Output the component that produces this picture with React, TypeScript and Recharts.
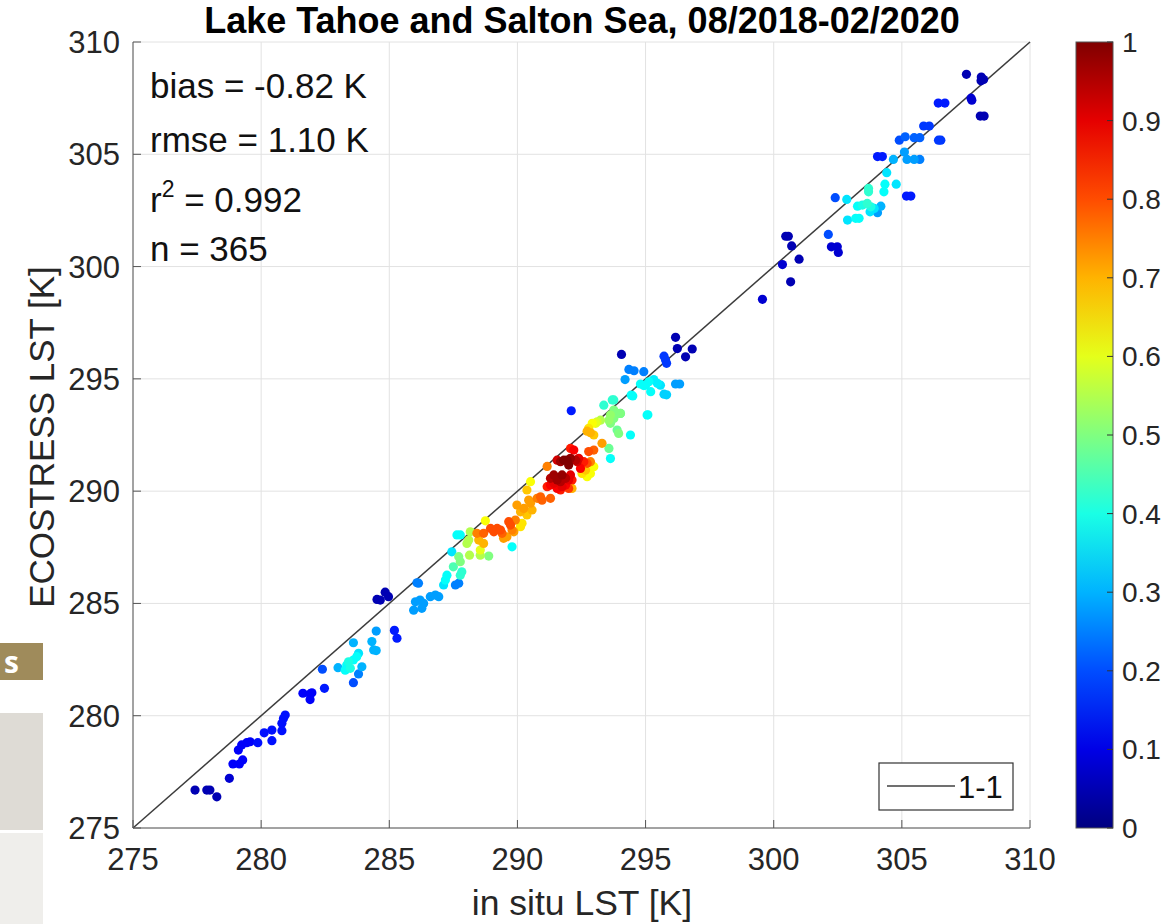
import { CartesianGrid, ReferenceLine, Scatter, ScatterChart, XAxis, YAxis } from "recharts";

const AXIS_TICKS = [275, 280, 285, 290, 295, 300, 305, 310];
const CBAR_TICKS = [0, 0.1, 0.2, 0.3, 0.4, 0.5, 0.6, 0.7, 0.8, 0.9, 1];

// in situ LST [K]
const inSitu = [
  277.42, 277.88, 278.0, 278.27, 278.76, 278.9, 279.15, 279.28, 279.11, 279.24,
  279.44, 279.57, 279.87, 280.12, 280.42, 280.42, 280.81, 280.81, 280.87, 280.94,
  281.63, 281.91, 281.98, 281.91, 282.47, 282.39,
  283.0, 283.34, 283.48, 283.41, 283.6, 283.73, 283.8, 283.93, 283.28, 283.6,
  283.8, 283.6, 284.32, 284.39, 284.49, 284.49, 285.2, 285.3,
  284.52, 284.65, 284.84, 284.97,
  286.08, 286.02, 286.2, 286.34, 285.95, 286.27, 286.6, 286.8, 286.93, 286.14,
  287.12, 287.25, 287.19, 287.58, 287.71, 287.44, 287.71, 287.77, 287.5, 287.83,
  287.77, 287.64, 287.77, 288.16, 288.1, 288.03, 288.13, 288.55, 288.55, 288.88,
  288.49, 288.68, 288.75, 288.42, 288.68, 288.95, 289.08, 289.21, 289.34, 289.4,
  289.46, 289.59, 289.66, 289.73, 289.79, 289.86, 289.92, 289.79,
  289.98, 290.12, 290.25, 290.37, 290.51, 290.57, 290.44, 290.77, 290.96, 290.9,
  291.29, 290.12, 290.18, 290.37, 290.51, 291.16,
  291.16, 291.29, 291.42, 291.55, 291.68, 291.74, 291.88, 292.0, 292.13,
  291.29, 291.42, 291.55, 291.68, 291.74, 291.88, 292.0, 292.07, 292.13,
  291.55, 291.68, 291.81, 291.94, 292.07, 292.0, 292.27, 292.33, 292.39, 292.46,
  292.59, 292.72, 292.85, 292.07, 292.2,
  292.52, 292.66, 292.72, 292.85, 292.98, 292.78, 292.98, 293.3,
  292.72, 292.85, 292.98, 292.78, 292.92, 293.05, 293.11, 293.24,
  293.57, 293.63, 293.63, 293.76, 293.89, 294.02, 293.89, 293.95, 293.37, 293.76,
  294.41, 295.06, 292.1,
  293.7, 293.76, 293.63, 294.02, 293.57,
  296.17, 296.24, 296.82, 296.56, 295.72, 295.78, 295.82, 294.06,
  294.35, 294.55, 294.93, 294.2, 294.8, 295.0, 295.13, 295.32, 295.46, 295.58,
  295.2, 294.93, 295.72, 295.82, 296.17, 296.33, 294.44, 294.5, 295.09,
  299.56, 300.34, 300.66, 300.99, 300.7, 300.47, 300.57,
  302.13, 302.25, 302.48, 302.52, 302.4, 302.85,
  302.88, 303.2, 303.33, 303.27, 303.46, 303.65, 303.79, 303.92, 304.18, 303.76,
  304.05, 303.7, 303.7, 304.3, 304.34, 304.78, 304.41, 305.18, 305.35,
  304.05, 304.24, 304.67, 305.2, 305.48, 305.7, 305.1,
  304.9, 305.13, 305.48, 305.7, 305.85, 306.07, 306.43, 306.52,
  306.42, 306.68, 307.7, 307.73, 308.06, 308.21,
  307.52, 308.1, 308.19, 308.09,
];

// ECOSTRESS LST [K]
const ecostress = [
  276.69, 276.69, 276.69, 276.39, 277.21, 277.85, 277.85, 278.03, 278.47, 278.7,
  278.8, 278.84, 278.8, 279.24, 279.36, 278.89, 279.33, 279.66, 279.88, 280.03,
  281.0, 280.97, 281.02, 280.72, 281.22, 282.07,
  282.14, 282.26, 282.11, 282.4, 282.48, 282.63, 282.78, 282.18, 282.03, 281.47,
  281.86, 283.25, 283.3, 282.93, 283.77, 282.9, 283.8, 283.45,
  285.18, 285.15, 285.5, 285.3,
  285.92, 285.07, 285.15, 285.0, 284.7, 284.78, 285.3, 285.37, 285.3, 285.9,
  285.82, 286.26, 286.04, 285.82, 285.9, 287.3, 287.08, 286.86, 286.63, 286.41,
  286.26, 288.05, 288.05, 288.19, 287.82, 287.67, 287.15, 287.15, 287.38, 287.11,
  287.82, 287.67, 288.68, 288.12, 288.12, 288.34, 288.19, 288.34, 288.27, 288.12,
  287.9, 287.97, 288.64, 288.49, 288.27, 288.19, 288.71, 287.52,
  289.38, 289.08, 289.23, 288.94, 289.46, 289.16, 289.6, 289.68, 289.6, 289.75,
  289.68, 288.42, 288.57, 290.05, 290.42, 291.1,
  290.2, 290.27, 290.35, 290.12, 290.05, 290.2, 290.27, 290.12, 290.12,
  290.57, 290.72, 290.5, 290.42, 290.72, 290.57, 290.5, 290.72, 290.5,
  291.38, 291.31, 291.38, 291.38, 291.46, 291.16, 291.38, 291.31, 291.46, 291.01,
  291.31, 291.24, 291.31, 291.9, 291.83,
  290.79, 290.94, 290.64, 290.79, 291.09, 291.76, 291.83, 292.13,
  292.67, 292.6, 292.5, 292.8, 293.02, 293.02, 293.09, 293.16,
  291.9, 291.45, 293.02, 293.24, 293.46, 293.46, 292.72, 292.57, 293.83, 294.06,
  292.5, 293.39, 293.58,
  294.06, 293.61, 293.39, 293.46, 293.16,
  296.85, 296.35, 296.33, 295.98, 296.01, 295.84, 295.69, 296.09,
  295.42, 295.36, 295.32, 294.97, 294.77, 294.72, 294.87, 294.97, 294.8, 294.72,
  294.43, 294.7, 294.32, 294.29, 294.77, 294.77, 294.28, 294.24, 293.4,
  298.54, 300.09, 299.32, 300.33, 300.92, 301.35, 301.35,
  301.43, 300.88, 300.88, 300.63, 303.07, 302.99,
  302.07, 302.15, 302.15, 302.69, 302.74, 302.81, 302.66, 302.59, 302.69, 302.44,
  302.4, 303.48, 303.33, 303.33, 303.67, 303.67, 304.18, 303.14, 303.14,
  304.9, 304.9, 304.77, 304.77, 304.77, 304.77, 305.1,
  305.63, 305.78, 305.74, 305.74, 306.26, 306.26, 305.63, 305.63,
  307.28, 307.28, 307.5, 307.41, 306.7, 306.7,
  308.56, 308.44, 308.33, 308.27,
];

// normalised point density (colour)
const density = [
  0.05, 0.05, 0.05, 0.05, 0.08, 0.12, 0.12, 0.12, 0.12, 0.12,
  0.12, 0.12, 0.14, 0.14, 0.14, 0.14, 0.14, 0.14, 0.14, 0.14,
  0.12, 0.12, 0.12, 0.12, 0.15, 0.2,
  0.3, 0.38, 0.4, 0.4, 0.38, 0.38, 0.35, 0.3, 0.38, 0.2,
  0.25, 0.3, 0.3, 0.3, 0.28, 0.3, 0.15, 0.15,
  0.05, 0.05, 0.05, 0.05,
  0.25, 0.28, 0.28, 0.28, 0.28, 0.28, 0.28, 0.28, 0.28, 0.25,
  0.35, 0.38, 0.38, 0.25, 0.25, 0.35, 0.5, 0.5, 0.45, 0.42,
  0.42, 0.38, 0.38, 0.55, 0.55, 0.55, 0.55, 0.55, 0.6, 0.5,
  0.7, 0.7, 0.62, 0.75, 0.78, 0.8, 0.8, 0.8, 0.8, 0.78,
  0.72, 0.72, 0.8, 0.8, 0.75, 0.72, 0.75, 0.38,
  0.72, 0.7, 0.72, 0.68, 0.72, 0.7, 0.72, 0.75, 0.78, 0.78,
  0.78, 0.65, 0.65, 0.68, 0.62, 0.75,
  0.85, 0.88, 0.9, 0.88, 0.85, 0.9, 0.88, 0.82, 0.7,
  0.95, 0.97, 0.97, 0.95, 0.98, 0.95, 0.9, 0.9, 0.85,
  0.92, 0.97, 1.0, 1.0, 0.98, 1.0, 0.95, 0.92, 0.9, 0.88,
  0.85, 0.8, 0.75, 0.85, 0.88,
  0.65, 0.68, 0.62, 0.62, 0.62, 0.8, 0.78, 0.72,
  0.7, 0.7, 0.68, 0.65, 0.62, 0.6, 0.58, 0.55,
  0.48, 0.38, 0.5, 0.5, 0.48, 0.45, 0.48, 0.5, 0.42, 0.42,
  0.38, 0.38, 0.15,
  0.42, 0.5, 0.52, 0.5, 0.52,
  0.05, 0.05, 0.05, 0.05, 0.18, 0.18, 0.18, 0.05,
  0.25, 0.25, 0.25, 0.28, 0.38, 0.38, 0.38, 0.36, 0.36, 0.35,
  0.38, 0.38, 0.33, 0.33, 0.28, 0.28, 0.38, 0.38, 0.38,
  0.08, 0.08, 0.05, 0.05, 0.05, 0.05, 0.05,
  0.2, 0.08, 0.08, 0.08, 0.2, 0.35,
  0.35, 0.38, 0.38, 0.38, 0.4, 0.42, 0.4, 0.35, 0.3, 0.35,
  0.28, 0.42, 0.42, 0.38, 0.38, 0.35, 0.35, 0.15, 0.15,
  0.15, 0.15, 0.3, 0.28, 0.28, 0.25, 0.28,
  0.2, 0.22, 0.22, 0.22, 0.18, 0.18, 0.18, 0.18,
  0.15, 0.15, 0.08, 0.08, 0.05, 0.05,
  0.05, 0.05, 0.05, 0.05,
];

function jet(v: number) {
  const c = (t: number) => Math.round(255 * Math.max(0, Math.min(1, t)));
  const r = c(1.5 - Math.abs(4 * v - 3));
  const g = c(1.5 - Math.abs(4 * v - 2));
  const b = c(1.5 - Math.abs(4 * v - 1));
  return `rgb(${r},${g},${b})`;
}

const points = inSitu
  .map((x, i) => ({ x, y: ecostress[i], d: density[i] }))
  .sort((a, b) => a.d - b.d);

const FONT = "'Liberation Sans', Arial, Helvetica, sans-serif";
const PLOT = { left: 133, top: 42, right: 1030, bottom: 828 };
const CBAR = { x: 1076, w: 37 };

function Overlay() {
  const cbY = (v: number) => PLOT.bottom - v * (PLOT.bottom - PLOT.top);
  const jetStops = [0, 0.1, 0.2, 0.3, 0.4, 0.5, 0.6, 0.7, 0.8, 0.9, 1];
  return (
    <svg
      width={1176}
      height={924}
      style={{ position: "absolute", left: 0, top: 0, pointerEvents: "none", fontFamily: FONT }}
    >
      <defs>
        <linearGradient id="jet" x1="0" y1="1" x2="0" y2="0">
          {jetStops.map((s) => (
            <stop key={s} offset={`${s * 100}%`} stopColor={jet(s)} />
          ))}
        </linearGradient>
      </defs>
      <text x={582} y={33} textAnchor="middle" fontSize={36} fontWeight="bold" fill="#000">
        Lake Tahoe and Salton Sea, 08/2018-02/2020
      </text>
      <text x={582} y={915} textAnchor="middle" fontSize={35.5} fill="#262626">
        in situ LST [K]
      </text>
      <text
        transform="translate(54,437) rotate(-90)"
        textAnchor="middle"
        fontSize={35}
        fill="#262626"
      >
        ECOSTRESS LST [K]
      </text>
      <g fontSize={35} fill="#111">
        <text x={150} y={98}>bias = -0.82 K</text>
        <text x={150} y={152}>rmse = 1.10 K</text>
        <text x={150} y={212}>
          r<tspan dy={-15} fontSize={23}>2</tspan>
          <tspan dy={15}> = 0.992</tspan>
        </text>
        <text x={150} y={261}>n = 365</text>
      </g>
      <rect x={879} y={763} width={134} height={47} fill="#fff" stroke="#333" strokeWidth={1.2} />
      <line x1={887} x2={955} y1={786} y2={786} stroke="#404040" strokeWidth={1.3} />
      <text x={958} y={798} fontSize={31} fill="#111">1-1</text>
      <rect
        x={CBAR.x}
        y={PLOT.top}
        width={CBAR.w}
        height={PLOT.bottom - PLOT.top}
        fill="url(#jet)"
        stroke="#555"
        strokeWidth={1}
      />
      {CBAR_TICKS.map((t) => (
        <g key={t}>
          <line
            x1={CBAR.x + CBAR.w - 6}
            x2={CBAR.x + CBAR.w}
            y1={cbY(t)}
            y2={cbY(t)}
            stroke="#333"
          />
          <text x={1122} y={cbY(t) + 10} fontSize={28} fill="#262626">
            {t}
          </text>
        </g>
      ))}
    </svg>
  );
}

export default function App() {
  return (
    <div style={{ position: "absolute", left: 0, top: 0, width: 1176, height: 924, background: "#fff" }}>
      <div style={{ position: "absolute", left: 0, top: 643, width: 43, height: 37, background: "#9f8b5b" }}>
        <span
          style={{
            position: "absolute",
            left: 4,
            top: -2,
            color: "#fff",
            fontFamily: "'Open Sans', sans-serif",
            fontWeight: 700,
            fontSize: 30,
          }}
        >
          s
        </span>
      </div>
      <div style={{ position: "absolute", left: 0, top: 713, width: 43, height: 117, background: "#dedbd5" }} />
      <div style={{ position: "absolute", left: 0, top: 833, width: 43, height: 91, background: "#efeeeb" }} />
      <ScatterChart
        width={1176}
        height={924}
        margin={{ top: PLOT.top, right: 1176 - PLOT.right, bottom: 924 - PLOT.bottom - 60, left: PLOT.left - 80 }}
        style={{ position: "absolute", left: 0, top: 0, fontFamily: FONT }}
      >
        <CartesianGrid stroke="#e2e2e2" strokeWidth={1} />
        <XAxis
          type="number"
          dataKey="x"
          domain={[275, 310]}
          ticks={AXIS_TICKS}
          allowDataOverflow
          height={60}
          tickSize={-8}
          tickMargin={28}
          stroke="#555"
          tick={{ fill: "#262626", fontSize: 31 }}
        />
        <XAxis
          xAxisId="top"
          orientation="top"
          type="number"
          dataKey="x"
          domain={[275, 310]}
          ticks={AXIS_TICKS}
          allowDataOverflow
          height={0}
          tickSize={-8}
          tick={false}
          stroke="#555"
        />
        <YAxis
          type="number"
          dataKey="y"
          domain={[275, 310]}
          ticks={AXIS_TICKS}
          allowDataOverflow
          width={80}
          tickSize={-8}
          tickMargin={21}
          stroke="#555"
          tick={{ fill: "#262626", fontSize: 31 }}
        />
        <YAxis
          yAxisId="right"
          orientation="right"
          type="number"
          dataKey="y"
          domain={[275, 310]}
          ticks={AXIS_TICKS}
          allowDataOverflow
          width={0}
          tickSize={-8}
          tick={false}
          stroke="#555"
        />
        <Scatter
          data={points}
          isAnimationActive={false}
          shape={(p: any) => <circle cx={p.cx} cy={p.cy} r={4.6} fill={jet(p.payload.d)} />}
        />
        <ReferenceLine
          segment={[
            { x: 275, y: 275 },
            { x: 310, y: 310 },
          ]}
          stroke="#3c3c3c"
          strokeWidth={1.5}
          ifOverflow="visible"
        />
      </ScatterChart>
      <Overlay />
    </div>
  );
}
